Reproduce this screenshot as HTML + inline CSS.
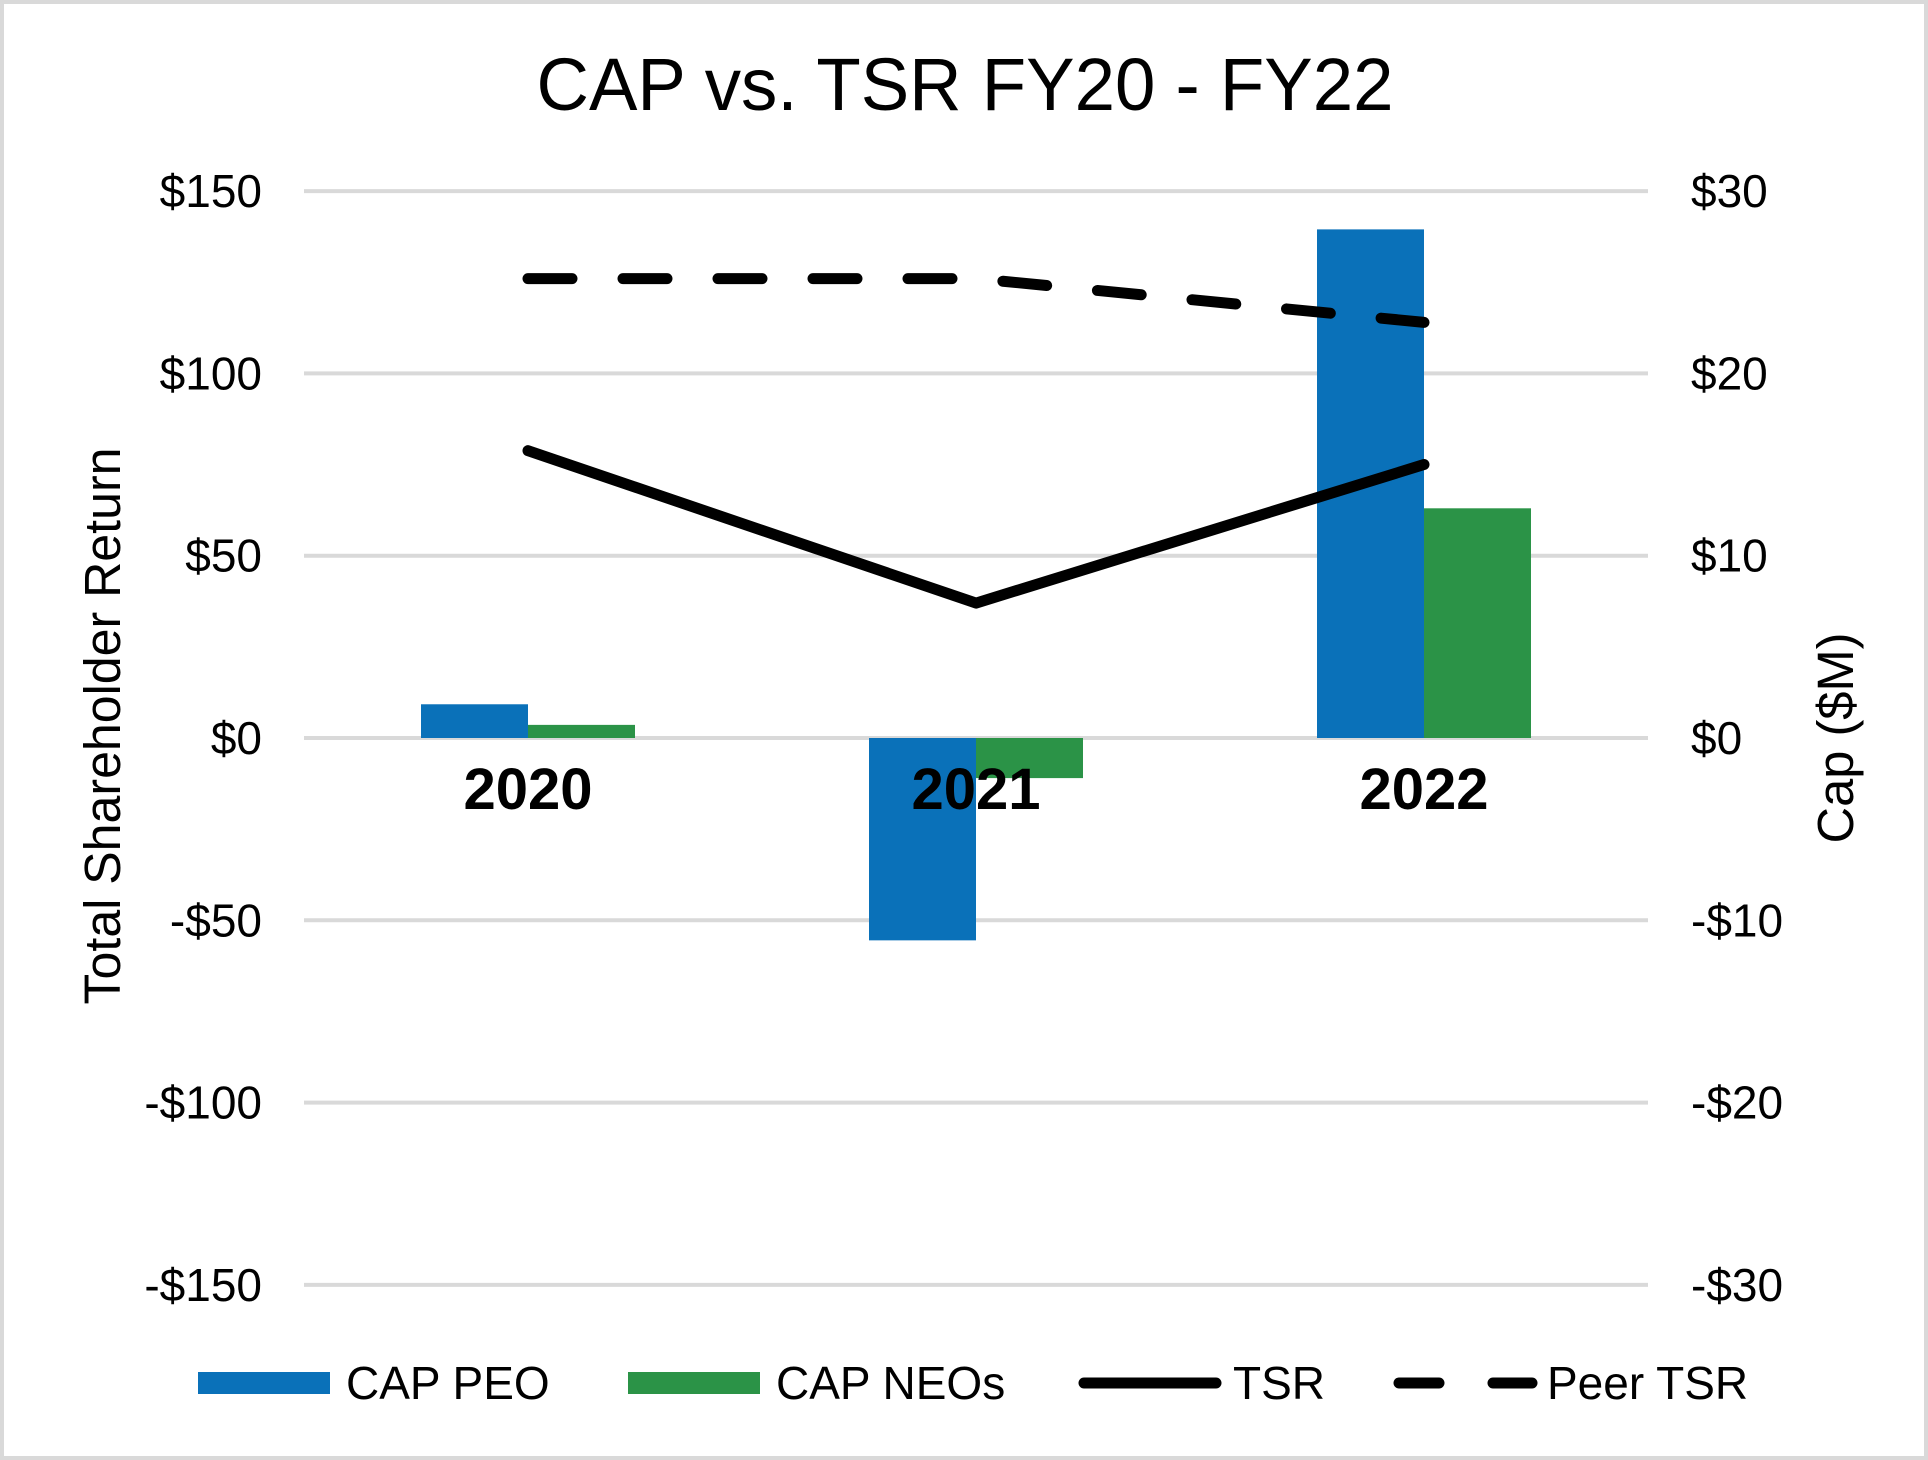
<!DOCTYPE html>
<html><head><meta charset="utf-8"><style>
html,body{margin:0;padding:0;background:#fff}
svg{display:block;font-family:"Liberation Sans",Arial,sans-serif}
</style></head><body>
<svg id="chart" width="1928" height="1460" viewBox="0 0 1928 1460" xmlns="http://www.w3.org/2000/svg">
<rect x="2" y="2" width="1924" height="1456" fill="#fff" stroke="#d9d9d9" stroke-width="4"/>
<text x="965" y="110" font-size="74" text-anchor="middle" textLength="857" lengthAdjust="spacingAndGlyphs">CAP vs. TSR FY20 - FY22</text>
<g id="grid"></g>
<g id="ticksL"></g>
<g id="ticksR"></g>
<g id="bars"></g>
<g id="lines"></g>
<g id="cats"></g>
<text transform="translate(120,726) rotate(-90)" font-size="51" text-anchor="middle" textLength="557" lengthAdjust="spacingAndGlyphs">Total Shareholder Return</text>
<text transform="translate(1853,738) rotate(-90)" font-size="51" text-anchor="middle" textLength="211" lengthAdjust="spacingAndGlyphs">Cap ($M)</text>
<g>
<g><rect x="198" y="1372" width="132" height="22" fill="#0a71b9"/><text x="346" y="1399" font-size="46">CAP PEO</text></g>
<g><rect x="628" y="1372" width="132" height="22" fill="#2b9347"/><text x="776" y="1399" font-size="46">CAP NEOs</text></g>
<g><line x1="1084" y1="1383" x2="1216" y2="1383" stroke="#000" stroke-width="11" stroke-linecap="round"/><text x="1233" y="1399" font-size="46">TSR</text></g>
<g><line x1="1399" y1="1383" x2="1439" y2="1383" stroke="#000" stroke-width="11" stroke-linecap="round"/><line x1="1493" y1="1383" x2="1532" y2="1383" stroke="#000" stroke-width="11" stroke-linecap="round"/><text x="1547" y="1399" font-size="46">Peer TSR</text></g>
</g>
</svg>
<script>
const categories = ["2020","2021","2022"];
const capPEO = [1.85, -11.1, 27.9];
const capNEOs = [0.72, -2.2, 12.6];
const tsr = [78.8, 37, 75];
const peerTsr = [126, 126, 114];
const leftTicks = [150,100,50,0,-50,-100,-150];
const leftTickLabels = ["$150","$100","$50","$0","-$50","-$100","-$150"];
const rightTickLabels = ["$30","$20","$10","$0","-$10","-$20","-$30"];

const NS="http://www.w3.org/2000/svg";
const plotL=304, plotR=1648, zeroY=738, pxPer50=182.3;
const yL=v=>zeroY - v/50*pxPer50;
const yR=v=>zeroY - v/10*pxPer50;
const catW=(plotR-plotL)/categories.length;
const xC=i=>plotL+catW*(i+0.5);
const barW=107;
function mk(tag,attrs,parent){const e=document.createElementNS(NS,tag);for(const k in attrs)e.setAttribute(k,attrs[k]);parent.appendChild(e);return e;}
const grid=document.getElementById('grid'),tl=document.getElementById('ticksL'),tr=document.getElementById('ticksR');
leftTicks.forEach((t,i)=>{
  const y=yL(t);
  const g=mk('line',{x1:plotL,x2:plotR,y1:y,y2:y,stroke:'#d9d9d9','stroke-width':4},grid);
  
  
  const a=mk('text',{x:262,y:y+16,'font-size':46,'text-anchor':'end'},tl);a.textContent=leftTickLabels[i];
  
  
  const b=mk('text',{x:1691,y:y+16,'font-size':46},tr);b.textContent=rightTickLabels[i];
  
  
});
const bars=document.getElementById('bars');
categories.forEach((c,i)=>{
  [[capPEO[i],'#0a71b9',xC(i)-barW,'bar-cap-peo-'+c],[capNEOs[i],'#2b9347',xC(i),'bar-cap-neos-'+c]].forEach(([v,col,x,n])=>{
    const y=yR(v);
    const r=mk('rect',{x:x,y:Math.min(y,zeroY),width:barW,height:Math.abs(zeroY-y),fill:col},bars);
    
    
  });
});
const lines=document.getElementById('lines');
const p1=mk('polyline',{points:tsr.map((v,i)=>xC(i)+','+yL(v)).join(' '),fill:'none',stroke:'#000','stroke-width':11,'stroke-linecap':'round','stroke-linejoin':'round'},lines);


const p2=mk('polyline',{points:peerTsr.map((v,i)=>xC(i)+','+yL(v)).join(' '),fill:'none',stroke:'#000','stroke-width':11,'stroke-linecap':'round','stroke-linejoin':'round','stroke-dasharray':'44 51'},lines);


const cats=document.getElementById('cats');
categories.forEach((c,i)=>{
  const t=mk('text',{x:xC(i),y:809,'font-size':58,'font-weight':'bold','text-anchor':'middle'},cats);t.textContent=c;
  
  
});
</script>
</body></html>
